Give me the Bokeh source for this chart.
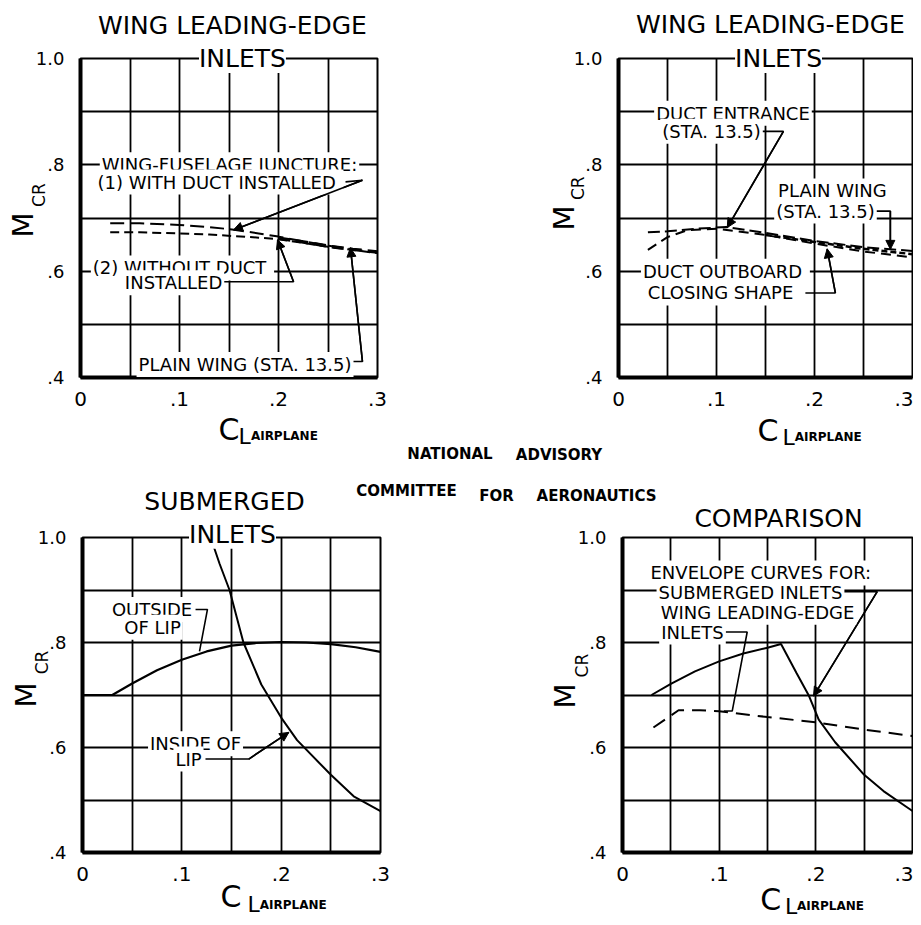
import math
from bokeh.plotting import figure
from bokeh.models import Range1d, FixedTicker, Label, Arrow, NormalHead
from bokeh.core.properties import value
from bokeh.layouts import column, row
from bokeh.embed import file_html
from bokeh.resources import INLINE

# ---------------- data ----------------
X_TICKS = [0.0, 0.1, 0.2, 0.3]
X_TICK_LABELS = ["0", ".1", ".2", ".3"]
Y_TICKS = [0.4, 0.6, 0.8, 1.0]
Y_TICK_LABELS = [".4", ".6", ".8", "1.0"]
X_GRID = [0.05, 0.10, 0.15, 0.20, 0.25]
Y_GRID = [0.5, 0.6, 0.7, 0.8, 0.9]

# Wing leading-edge inlets: wing-fuselage juncture
wf_x = [0.03, 0.06, 0.10, 0.13, 0.155, 0.18, 0.20, 0.225, 0.25, 0.275, 0.30]
wf_with_duct = [0.690, 0.690, 0.687, 0.683, 0.678, 0.671, 0.665, 0.656, 0.648, 0.641, 0.635]
wf_without_duct = [0.673, 0.673, 0.671, 0.669, 0.666, 0.663, 0.660, 0.653, 0.646, 0.640, 0.634]
wf_plain_x = [0.20, 0.225, 0.25, 0.275, 0.30]
wf_plain = [0.662, 0.655, 0.647, 0.641, 0.636]

# Wing leading-edge inlets: sta. 13.5
de_x = [0.03, 0.05, 0.08, 0.11, 0.15, 0.20, 0.25, 0.30]
de_entrance = [0.673, 0.675, 0.680, 0.683, 0.672, 0.657, 0.645, 0.638]
do_x = [0.03, 0.05, 0.07, 0.10, 0.15, 0.20, 0.25, 0.30]
do_outboard = [0.640, 0.664, 0.677, 0.680, 0.668, 0.652, 0.637, 0.626]
pw_x = [0.15, 0.20, 0.25, 0.30]
pw_plain = [0.668, 0.655, 0.642, 0.632]

# Submerged inlets
out_x = [0.0, 0.03, 0.05, 0.075, 0.10, 0.125, 0.15, 0.175, 0.20, 0.225, 0.25, 0.275, 0.30]
out_lip = [0.700, 0.700, 0.722, 0.747, 0.767, 0.783, 0.794, 0.799, 0.801, 0.800, 0.797, 0.791, 0.782]
in_x = [0.129, 0.138, 0.148, 0.162, 0.18, 0.20, 0.216, 0.25, 0.273, 0.30]
in_lip = [1.000, 0.950, 0.900, 0.800, 0.720, 0.657, 0.614, 0.548, 0.507, 0.479]

# Comparison: envelope curves
env_sub_x = [0.03, 0.05, 0.075, 0.10, 0.125, 0.15, 0.164, 0.18, 0.193, 0.203, 0.22, 0.25, 0.27, 0.30]
env_sub = [0.700, 0.721, 0.745, 0.764, 0.779, 0.790, 0.797, 0.742, 0.698, 0.653, 0.610, 0.548, 0.517, 0.479]
env_wing_x = [0.032, 0.058, 0.08, 0.10, 0.15, 0.20, 0.25, 0.30]
env_wing = [0.638, 0.671, 0.671, 0.669, 0.658, 0.648, 0.634, 0.622]

FONT = "DejaVu Sans"
ANN = 18  # annotation font size


def panel(width, height, left, right, top, bottom):
    p = figure(width=width, height=height, x_range=Range1d(0, 0.3), y_range=Range1d(0.4, 1.0),
               output_backend="svg", toolbar_location=None, tools="",
               min_border_left=left, min_border_right=right,
               min_border_top=top, min_border_bottom=bottom)
    p.outline_line_color = "black"
    p.outline_line_width = 2
    p.outline_line_alpha = 1.0
    p.xaxis.ticker = FixedTicker(ticks=X_TICKS)
    p.xaxis.major_label_overrides = dict(zip(X_TICKS, X_TICK_LABELS))
    p.yaxis.ticker = FixedTicker(ticks=Y_TICKS)
    p.yaxis.major_label_overrides = dict(zip(Y_TICKS, Y_TICK_LABELS))
    for ax in (p.xaxis[0], p.yaxis[0]):
        ax.axis_line_width = 4
        ax.axis_line_color = "black"
        ax.major_tick_line_color = None
        ax.minor_tick_line_color = None
        ax.major_label_text_font = FONT
        ax.major_label_text_color = "black"
    p.xaxis.major_label_text_font_size = "20px"
    p.yaxis.major_label_text_font_size = "18px"
    p.xaxis.major_label_standoff = 8
    p.yaxis.major_label_standoff = 10
    p.xgrid.ticker = FixedTicker(ticks=X_GRID)
    p.ygrid.ticker = FixedTicker(ticks=Y_GRID)
    for g in (p.xgrid[0], p.ygrid[0]):
        g.grid_line_color = "black"
        g.grid_line_width = 1.8
        g.grid_line_alpha = 1.0
    return p


def outer(p, x, y, text, size, bg=False, align="center", baseline="middle",
          angle=0.0, bold=False):
    """Text outside/on the frame edge: overlay-level text glyph (not clipped)."""
    p.text(x=[x], y=[y], text=[text], text_font=value(FONT),
           text_font_size=value(f"{size}px"), text_align=align,
           text_baseline=baseline, angle=angle, text_color="black",
           text_font_style="bold" if bold else "normal", level="overlay",
           background_fill_color="white" if bg else None)


def lab(p, x, y, text, size=ANN):
    """Annotation inside the frame, white background breaks the grid lines."""
    p.add_layout(Label(x=x, y=y, text=text, text_font=FONT, text_font_size=f"{size}px",
                       text_align="center", text_baseline="middle",
                       text_color="black", background_fill_color="white", padding=2))


def leader(p, xs, ys, arrow=True):
    p.line(xs, ys, line_color="black", line_width=1.6)
    if arrow:
        p.add_layout(Arrow(end=NormalHead(size=9, fill_color="black", line_color="black"),
                           x_start=xs[-2], y_start=ys[-2], x_end=xs[-1], y_end=ys[-1],
                           line_color="black", line_width=1.6))


def axis_titles(p, m, cr, c, l, air):
    outer(p, m[0], m[1], "M", 29, angle=math.pi / 2)
    outer(p, cr[0], cr[1], "CR", 17, angle=math.pi / 2)
    outer(p, c[0], c[1], "C", 30, align="left", baseline="alphabetic")
    outer(p, l[0], l[1], "L", 22, align="left", baseline="alphabetic")
    outer(p, air[0], air[1], "AIRPLANE", 12, align="left", baseline="alphabetic", bold=True)


# ---------------- panel 1 ----------------
p1 = panel(505, 470, 80, 128, 58, 92)
p1.line(wf_x, wf_with_duct, line_color="black", line_width=2, line_dash="14 6")
p1.line(wf_x, wf_without_duct, line_color="black", line_width=2, line_dash="9 5")
p1.line(wf_plain_x, wf_plain, line_color="black", line_width=3.5, line_dash="12 6")
outer(p1, 0.1535, 1.062, "WING LEADING-EDGE", 25)
outer(p1, 0.1636, 1.0, "INLETS", 25, bg=True)
lab(p1, 0.1505, 0.80, "WING-FUSELAGE JUNCTURE:")
lab(p1, 0.1404, 0.7675, "(1) WITH DUCT  INSTALLED")
leader(p1, [0.2677, 0.2848, 0.1545], [0.768, 0.771, 0.6775])
lab(p1, 0.103, 0.606, "(2) WITHOUT  DUCT")
lab(p1, 0.094, 0.578, "INSTALLED")
leader(p1, [0.1444, 0.2152, 0.199], [0.58, 0.58, 0.659])
lab(p1, 0.1662, 0.4244, "PLAIN WING (STA. 13.5)")
leader(p1, [0.2707, 0.2848, 0.2727], [0.43, 0.43, 0.644])
axis_titles(p1, (-0.058, 0.687), (-0.0424, 0.743), (0.1394, 0.3025),
            (0.1596, 0.2894), (0.1721, 0.2894))
outer(p1, 0.3732, 0.2556, "NATIONAL", 15, bold=True)

# ---------------- panel 2 ----------------
p2 = panel(408, 470, 113, 1, 57, 93)
p2.line(de_x, de_entrance, line_color="black", line_width=2, line_dash="12 5")
p2.line(do_x, do_outboard, line_color="black", line_width=2, line_dash="10 6")
p2.line(pw_x, pw_plain, line_color="black", line_width=2.5, line_dash="6 3")
outer(p2, 0.155, 1.064, "WING LEADING-EDGE", 25)
outer(p2, 0.1633, 1.0, "INLETS", 25, bg=True)
lab(p2, 0.1168, 0.897, "DUCT ENTRANCE")
lab(p2, 0.0949, 0.863, "(STA. 13.5)")
leader(p2, [0.1428, 0.1683, 0.111], [0.863, 0.863, 0.682])
lab(p2, 0.2183, 0.751, "PLAIN WING")
lab(p2, 0.2112, 0.713, "(STA. 13.5)")
leader(p2, [0.2537, 0.2774, 0.2774], [0.713, 0.713, 0.641])
lab(p2, 0.1091, 0.600, "DUCT  OUTBOARD")
lab(p2, 0.1071, 0.559, "CLOSING  SHAPE")
leader(p2, [0.1907, 0.2213, 0.2129], [0.559, 0.559, 0.642])
axis_titles(p2, (-0.0561, 0.70), (-0.0418, 0.756), (0.1418, 0.3006),
            (0.1673, 0.2875), (0.1798, 0.2875))
outer(p2, -0.0607, 0.2538, "ADVISORY", 15, bold=True)

# ---------------- panel 3 ----------------
p3 = panel(470, 447, 82, 90, 67, 60)
p3.line(out_x, out_lip, line_color="black", line_width=2.2)
p3.line(in_x, in_lip, line_color="black", line_width=2)
outer(p3, 0.143, 1.069, "SUBMERGED", 25)
outer(p3, 0.151, 1.006, "INLETS", 25, bg=True)
lab(p3, 0.070, 0.863, "OUTSIDE")
lab(p3, 0.0705, 0.829, "OF LIP")
leader(p3, [0.1138, 0.1258, 0.1178], [0.863, 0.863, 0.783], arrow=False)
lab(p3, 0.1138, 0.607, "INSIDE OF")
lab(p3, 0.1067, 0.578, "LIP")
leader(p3, [0.1238, 0.1674, 0.2077], [0.578, 0.578, 0.6288])
axis_titles(p3, (-0.0564, 0.70), (-0.0403, 0.762), (0.1389, 0.3156),
            (0.166, 0.3006), (0.1785, 0.3006))
outer(p3, 0.3262, 1.0881, "COMMITTEE", 15, bold=True)

# ---------------- panel 4 ----------------
p4 = panel(443, 447, 152, 1, 62, 65)
p4.line(env_sub_x, env_sub, line_color="black", line_width=2)
p4.line(env_wing_x, env_wing, line_color="black", line_width=2, line_dash="14 8")
outer(p4, 0.1614, 1.0356, "COMPARISON", 25)
lab(p4, 0.149, 0.9325, "ENVELOPE  CURVES  FOR:")
lab(p4, 0.1324, 0.895, "SUBMERGED INLETS")
leader(p4, [0.229, 0.2635, 0.1976], [0.897, 0.897, 0.698])
lab(p4, 0.1397, 0.8575, "WING LEADING-EDGE")
lab(p4, 0.0724, 0.820, "INLETS")
leader(p4, [0.1066, 0.129, 0.1135, 0.1048], [0.82, 0.82, 0.6694, 0.6694], arrow=False)
axis_titles(p4, (-0.060, 0.698), (-0.0424, 0.756), (0.1425, 0.310),
            (0.168, 0.2975), (0.1805, 0.2975))
outer(p4, -0.1303, 1.0788, "FOR", 15, bold=True)
outer(p4, -0.0269, 1.0788, "AERONAUTICS", 15, bold=True)

layout = column(row(p1, p2, spacing=0), row(p3, p4, spacing=0), spacing=0)
open("out.html", "w").write(file_html(layout, INLINE))
